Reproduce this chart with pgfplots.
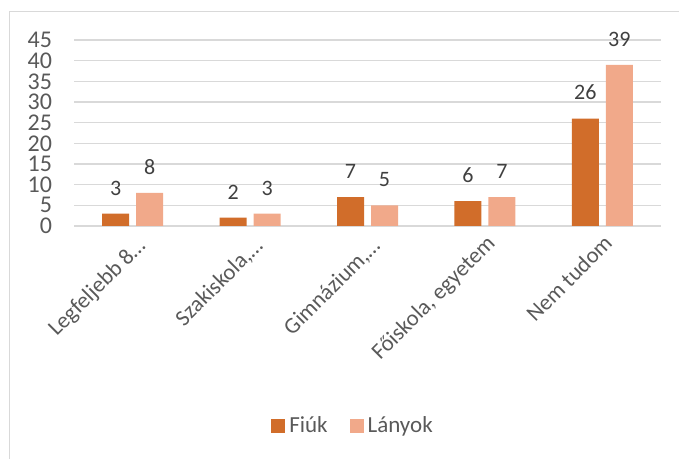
\documentclass[border=0pt]{standalone}
\usepackage{fontspec}
\setmainfont{Carlito}
\usepackage{pgfplots}
\pgfplotsset{compat=1.18}
\definecolor{fiuk}{HTML}{D16D2A}
\definecolor{lanyok}{HTML}{F1A98A}
\definecolor{gridc}{HTML}{D9D9D9}
\definecolor{ticktxt}{HTML}{595959}
\definecolor{lbltxt}{HTML}{404040}
\begin{document}
\begin{tikzpicture}
\begin{axis}[
  at={(37pt,116.5pt)}, anchor=south west,
  scale only axis, width=293.5pt, height=93pt,
  ybar=3.5pt, bar width=13.5pt,
  xmin=-0.5, xmax=4.5, ymin=0, ymax=45,
  ytick={0,5,...,45},
  xtick=data,
  xticklabels={Legfeljebb 8…, {Szakiskola,…}, {Gimnázium,…},
    {\raisebox{1.8pt}{Főiskola, egyetem}\hspace{18.5pt}},
    {\raisebox{1.8pt}{Nem tudom}\hspace{18.5pt}}},
  major tick length=0pt,
  axis line style={draw=none},
  ymajorgrids, grid style={gridc, line width=0.75pt},
  /pgf/number format/assume math mode=true,
  yticklabel style={font=\fontsize{12}{14}\selectfont, text=ticktxt, xshift=-7.5pt},
  xticklabel style={font=\fontsize{11.3}{13}\selectfont, text=ticktxt,
    xshift=7pt, yshift=-10.5pt, rotate=45,
    anchor=base east, inner sep=0pt},
  nodes near coords,
  nodes near coords style={font=\fontsize{11}{13}\selectfont, text=lbltxt, anchor=south, inner sep=0pt, yshift=9pt},
  legend columns=2,
  legend style={at={(0.477,-1.075)}, anchor=center, draw=none, fill=none,
    font=\fontsize{11.5}{13}\selectfont, text=ticktxt,
    /tikz/every even column/.append style={column sep=9pt}},
  legend image code/.code={\fill[#1] (0pt,-3.5pt) rectangle (7pt,3.5pt);},
]
\addplot[fill=fiuk, draw=none] coordinates {(0,3) (1,2) (2,7) (3,6) (4,26)};
\addplot[fill=lanyok, draw=none] coordinates {(0,8) (1,3) (2,5) (3,7) (4,39)};
\legend{Fiúk, Lányok}
\end{axis}
\draw[gridc, line width=0.6pt] (4.75pt,0pt) -- (4.75pt,223.65pt) -- (345pt,223.65pt);
\pgfresetboundingbox
\useasboundingbox (0,0) rectangle (339.5pt,229.5pt);
\end{tikzpicture}
\end{document}
